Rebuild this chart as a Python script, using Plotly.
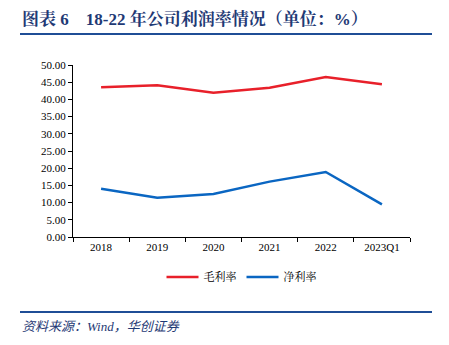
import plotly.graph_objects as go

categories = ["2018", "2019", "2020", "2021", "2022", "2023Q1"]
gross_margin = [43.5, 44.1, 41.9, 43.4, 46.5, 44.4]
net_margin = [14.0, 11.4, 12.5, 16.1, 18.9, 9.5]
series_names = ["毛利率", "净利率"]

W, H = 449, 345
L, R, T, B = 73, 39, 65, 108
pw, ph = W - L - R, H - T - B

def px(x):
    return (x - L) / pw

def py(y):
    return 1 - (y - T) / ph

fig = go.Figure()
fig.add_trace(go.Scatter(x=categories, y=gross_margin, mode="lines", name=series_names[0],
                         line=dict(color="#e8202a", width=2.5)))
fig.add_trace(go.Scatter(x=categories, y=net_margin, mode="lines", name=series_names[1],
                         line=dict(color="#0a66c2", width=2.5)))

serif = "Liberation Serif, Times New Roman, Noto Sans CJK SC, serif"
title_color = "#1f3a75"

fig.update_layout(
    width=W, height=H,
    margin=dict(l=L, r=R, t=T, b=B),
    paper_bgcolor="white", plot_bgcolor="white",
    font=dict(family=serif, size=11, color="black"),
    showlegend=True,
    legend=dict(orientation="h", x=0.5, xanchor="center", y=py(277), yanchor="middle",
                font=dict(size=11, family="Noto Serif CJK SC, Noto Sans CJK SC, serif"), itemwidth=32,
                tracegroupgap=0),
    xaxis=dict(type="category", range=[-0.5, 5.5], showline=True, linecolor="black",
               linewidth=1, ticks="outside", tickson="boundaries", ticklen=4,
               tickcolor="black", showgrid=False, tickfont=dict(size=11, family=serif)),
    yaxis=dict(range=[0, 50], dtick=5, tickformat=".2f", showline=True, linecolor="black",
               linewidth=1, ticks="outside", ticklen=4, tickcolor="black", showgrid=False,
               zeroline=False, tickfont=dict(size=11, family=serif)),
    shapes=[
        dict(type="line", xref="paper", yref="paper", x0=px(20), x1=px(432), y0=py(34), y1=py(34),
             line=dict(color="#1f4e96", width=2)),
        dict(type="line", xref="paper", yref="paper", x0=px(20), x1=px(432), y0=py(312), y1=py(312),
             line=dict(color="#1f4e96", width=2)),
    ],
    annotations=[
        dict(text="<b>图表 6    18-22 年公司利润率情况（单位：%）</b>", xref="paper", yref="paper",
             x=px(20), y=py(19), xanchor="left", yanchor="middle", showarrow=False,
             font=dict(size=17, color=title_color,
                       family="Liberation Serif, Noto Serif CJK SC, Noto Sans CJK SC, serif")),
        dict(text="<i>资料来源：Wind，华创证券</i>", xref="paper", yref="paper",
             x=px(20), y=py(326), xanchor="left", yanchor="middle", showarrow=False,
             font=dict(size=13, color=title_color, family="Liberation Serif, Noto Sans CJK SC, serif")),
    ],
)

fig.write_html("out.html")
